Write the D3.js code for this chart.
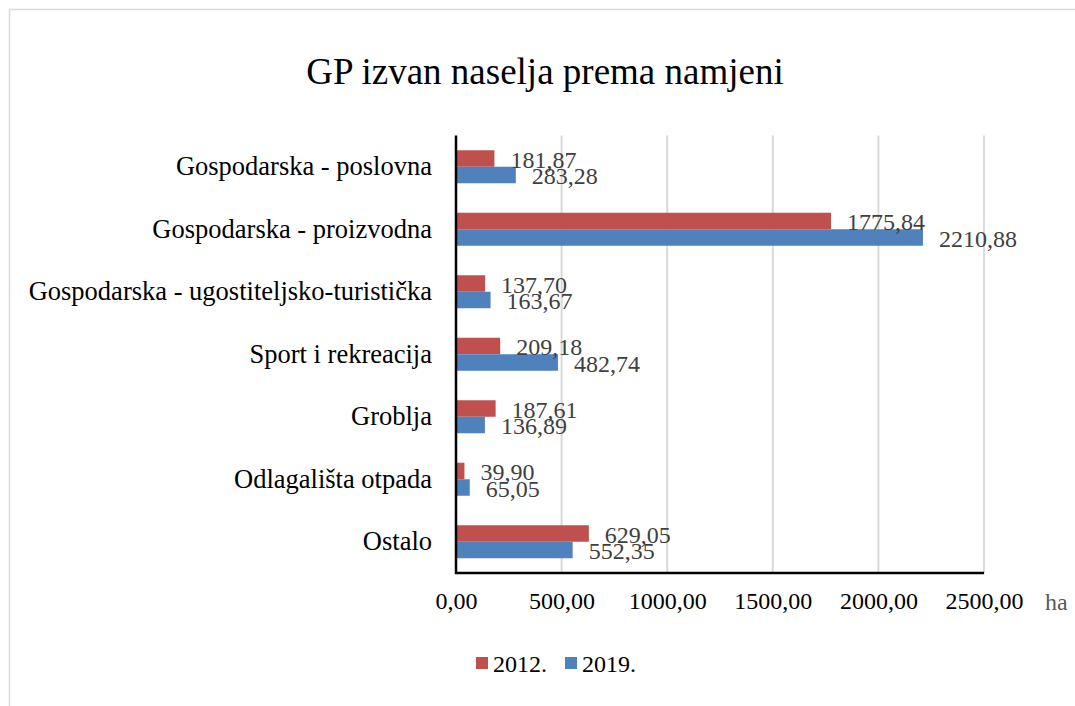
<!DOCTYPE html>
<html>
<head>
<meta charset="utf-8">
<script src="https://cdn.jsdelivr.net/npm/d3@7"></script>
<style>
  body { margin: 0; background: #fff; }
  svg text { font-family: "Liberation Serif", "Times New Roman", serif; }
</style>
</head>
<body>
<div id="chart"></div>
<script>
// chart data
var categories = [
  "Gospodarska - poslovna",
  "Gospodarska - proizvodna",
  "Gospodarska - ugostiteljsko-turistička",
  "Sport i rekreacija",
  "Groblja",
  "Odlagališta otpada",
  "Ostalo"
];
var seriesNames = ["2012.", "2019."];
var values2012 = [181.87, 1775.84, 137.70, 209.18, 187.61, 39.90, 629.05];
var values2019 = [283.28, 2210.88, 163.67, 482.74, 136.89, 65.05, 552.35];
var xTicks = [0, 500, 1000, 1500, 2000, 2500];
var colors = ["#C0504D", "#4F81BD"];

var svgWidth = 1075;
var svgHeight = 706;

var margin = { top: 135.5, right: 91, bottom: 133, left: 456 };
var chartWidth = 984 - margin.left;
var chartHeight = 573 - margin.top;

var svg = d3.select("#chart")
  .append("svg")
  .attr("width", svgWidth)
  .attr("height", svgHeight);

// outer frame
svg.append("rect")
  .attr("x", 9.5)
  .attr("y", 9.5)
  .attr("width", 1100)
  .attr("height", 720)
  .attr("fill", "none")
  .attr("stroke", "#d9d9d9")
  .attr("stroke-width", 1.5);

// title
svg.append("text")
  .attr("x", 545)
  .attr("y", 84)
  .attr("text-anchor", "middle")
  .style("font-size", "37px")
  .attr("fill", "#000")
  .text("GP izvan naselja prema namjeni");

var chartGroup = svg.append("g")
  .attr("transform", `translate(${margin.left}, ${margin.top})`);

// number format with comma decimal
var fmt = d => d3.format(".2f")(d).replace(".", ",");

var xScale = d3.scaleLinear()
  .domain([0, 2500])
  .range([0, chartWidth]);

var yScale = d3.scaleBand()
  .domain(categories)
  .range([0, chartHeight])
  .paddingInner(0)
  .paddingOuter(0);

var barH = 16.5;
var ySub = d3.scaleBand()
  .domain(seriesNames)
  .range([yScale.bandwidth() / 2 - barH, yScale.bandwidth() / 2 + barH]);

// gridlines
chartGroup.selectAll(".grid")
  .data(xTicks.slice(1))
  .enter()
  .append("line")
  .attr("x1", d => xScale(d))
  .attr("x2", d => xScale(d))
  .attr("y1", 0)
  .attr("y2", chartHeight)
  .attr("stroke", "#d9d9d9")
  .attr("stroke-width", 2);

var rows = categories.map(function(c, i) {
  return { cat: c, vals: [values2012[i], values2019[i]] };
});

var group = chartGroup.selectAll(".row")
  .data(rows)
  .enter()
  .append("g")
  .attr("transform", d => `translate(0, ${yScale(d.cat)})`);

group.selectAll("rect")
  .data(d => d.vals.map((v, j) => ({ s: seriesNames[j], v: v, j: j })))
  .enter()
  .append("rect")
  .attr("x", 0)
  .attr("y", d => ySub(d.s))
  .attr("width", d => xScale(d.v))
  .attr("height", ySub.bandwidth())
  .attr("fill", d => colors[d.j]);

group.selectAll(".lbl")
  .data(d => d.vals.map((v, j) => ({ s: seriesNames[j], v: v, j: j })))
  .enter()
  .append("text")
  .attr("x", d => xScale(d.v) + 16)
  .attr("y", d => ySub(d.s) + ySub.bandwidth() / 2 + 9)
  .style("font-size", "24px")
  .attr("fill", "#404040")
  .text(d => fmt(d.v));

// x axis
var xAxis = d3.axisBottom(xScale)
  .tickValues(xTicks)
  .tickFormat(fmt)
  .tickSize(0)
  .tickPadding(19);

var xg = chartGroup.append("g")
  .attr("transform", `translate(0, ${chartHeight})`)
  .call(xAxis);
xg.select(".domain").remove();
xg.selectAll("text")
  .style("font-size", "24px")
  .attr("fill", "#000")
  .attr("font-family", null);

// y axis
var yAxis = d3.axisLeft(yScale)
  .tickSize(0)
  .tickPadding(24);

var yg = chartGroup.append("g").call(yAxis);
yg.select(".domain").remove();
yg.selectAll("text")
  .style("font-size", "26.5px")
  .attr("fill", "#000")
  .attr("font-family", null);

// axis lines
chartGroup.append("path")
  .attr("d", `M0,0V${chartHeight}H${chartWidth}`)
  .attr("fill", "none")
  .attr("stroke", "#000")
  .attr("stroke-width", 2.5);

// unit label
svg.append("text")
  .attr("x", 1045)
  .attr("y", 610)
  .style("font-size", "24px")
  .attr("fill", "#595959")
  .text("ha");

// legend
var legend = svg.append("g")
  .attr("transform", "translate(476, 657)");
var legendX = [0, 89];
seriesNames.forEach(function(name, i) {
  legend.append("rect")
    .attr("x", legendX[i])
    .attr("y", 0)
    .attr("width", 12)
    .attr("height", 12)
    .attr("fill", colors[i]);
  legend.append("text")
    .attr("x", legendX[i] + 17)
    .attr("y", 15)
    .style("font-size", "24px")
    .attr("fill", "#000")
    .text(name);
});
</script>
</body>
</html>
